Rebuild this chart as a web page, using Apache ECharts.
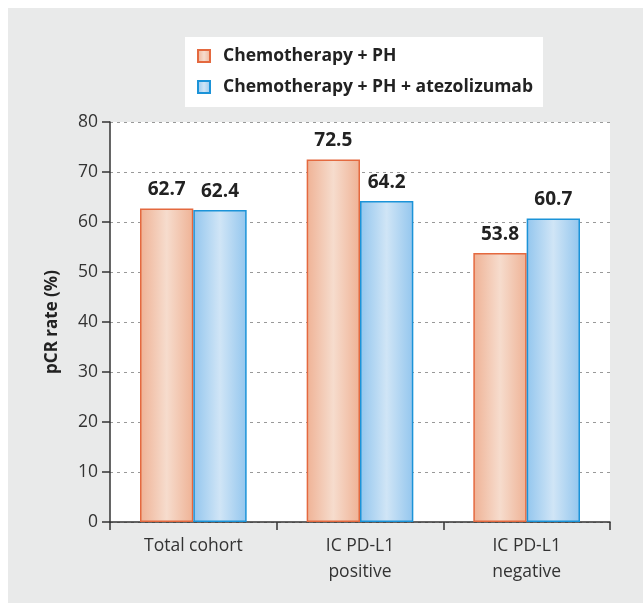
<!DOCTYPE html>
<html><head><meta charset="utf-8">
<script src="https://cdn.jsdelivr.net/npm/echarts@6/dist/echarts.min.js"></script>
<style>html,body{margin:0;padding:0;background:#fff}#c{width:643px;height:603px}</style>
</head><body><div id="c"></div>
<script>
const categories = ['Total cohort', 'IC PD-L1\npositive', 'IC PD-L1\nnegative'];
const seriesNames = ['Chemotherapy + PH', 'Chemotherapy + PH + atezolizumab'];
const chemoPH = [62.7, 72.5, 53.8];
const chemoPHAtezo = [62.4, 64.2, 60.7];
const yTicks = [0, 10, 20, 30, 40, 50, 60, 70, 80];

const font = '"Open Sans", "Noto Sans", sans-serif';
function grad(edge, mid) {
  return new echarts.graphic.LinearGradient(0, 0, 1, 0, [
    {offset: 0, color: edge}, {offset: 0.5, color: mid}, {offset: 1, color: edge}
  ]);
}
const chart = echarts.init(document.getElementById('c'), null, {renderer: 'canvas'});
chart.setOption({
  backgroundColor: '#fff',
  animation: false,
  graphic: [{type: 'rect', left: 8, top: 8, z: -10, silent: true,
    shape: {width: 635, height: 595}, style: {fill: '#e9eaea'}}],
  legend: {
    orient: 'vertical', left: 185, top: 37,
    backgroundColor: '#fff', padding: [10, 10, 11, 12], itemGap: 13,
    itemWidth: 12, itemHeight: 12, icon: 'rect',
    textStyle: {fontFamily: font, fontWeight: 'bold', fontSize: 17.5, lineHeight: 18, color: '#222', padding: [0, 0, 0, 8]},
    data: seriesNames
  },
  grid: {left: 110, top: 122, right: 33, bottom: 81, show: true, backgroundColor: '#fff', borderWidth: 0},
  xAxis: {
    type: 'category', data: categories,
    axisLine: {lineStyle: {color: '#333', width: 1.5}},
    axisTick: {show: true, length: 8, lineStyle: {color: '#333', width: 1.5}},
    axisLabel: {fontFamily: font, fontSize: 17.5, color: '#333', margin: 11, lineHeight: 26}
  },
  yAxis: {
    type: 'value', min: yTicks[0], max: yTicks[yTicks.length - 1], interval: 10,
    name: 'pCR rate (%)', nameLocation: 'middle', nameGap: 49,
    nameTextStyle: {fontFamily: font, fontWeight: 'bold', fontSize: 17, color: '#222'},
    axisLine: {show: true, lineStyle: {color: '#333', width: 1.5}},
    axisTick: {show: true, length: 8, lineStyle: {color: '#333', width: 1.5}},
    axisLabel: {fontFamily: font, fontSize: 17.5, color: '#333', margin: 12},
    splitLine: {show: true, lineStyle: {color: '#999', type: [3, 4], width: 1}}
  },
  series: [
    {name: seriesNames[0], type: 'bar', data: chemoPH, barGap: '0%', barCategoryGap: '36%',
     itemStyle: {color: grad('#efb295', '#f6dccd'), borderColor: '#e4693f', borderWidth: 1.5},
     label: {show: true, position: 'top', distance: 9, fontFamily: font, fontWeight: 'bold', fontSize: 19, color: '#222',
       formatter: p => p.value.toFixed(1)}},
    {name: seriesNames[1], type: 'bar', data: chemoPHAtezo,
     itemStyle: {color: grad('#93c6ee', '#d0e5f6'), borderColor: '#1b93d8', borderWidth: 1.5},
     label: {show: true, position: 'top', distance: 9, fontFamily: font, fontWeight: 'bold', fontSize: 19, color: '#222',
       formatter: p => p.value.toFixed(1)}}
  ]
});
</script></body></html>
